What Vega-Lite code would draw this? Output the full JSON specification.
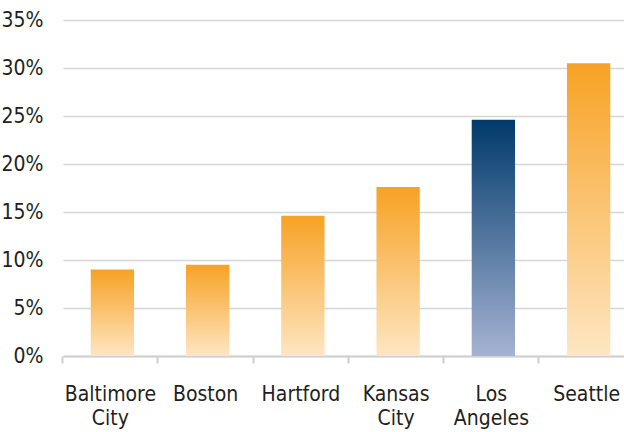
{
  "$schema": "https://vega.github.io/schema/vega-lite/v6.json",
  "autosize": {"type": "none"},
  "width": 561,
  "height": 336,
  "padding": {"left": 63, "top": 20, "right": 0, "bottom": 76},
  "background": "white",
  "config": {
    "view": {"stroke": null},
    "font": "DejaVu Sans Condensed, Roboto, sans-serif"
  },
  "data": {
    "values": [
      {"city": "Baltimore City", "share": 0.090},
      {"city": "Boston", "share": 0.095},
      {"city": "Hartford", "share": 0.146},
      {"city": "Kansas City", "share": 0.176},
      {"city": "Los Angeles", "share": 0.246},
      {"city": "Seattle", "share": 0.305}
    ]
  },
  "mark": {"type": "bar", "xOffset": 2},
  "encoding": {
    "x": {
      "field": "city",
      "type": "nominal",
      "sort": null,
      "scale": {"range": [0, 571], "paddingInner": 0.545, "paddingOuter": 0.27},
      "axis": {
        "title": null,
        "labelAngle": 0,
        "labelExpr": "split(datum.label, ' ')",
        "labelFontSize": 21,
        "labelColor": "#231f20",
        "labelLineHeight": 24,
        "labelPadding": 20,
        "bandPosition": -0.6,
        "ticks": true,
        "tickSize": 7,
        "tickColor": "#cfcfcf",
        "tickWidth": 2,
        "domainColor": "#cfcfcf",
        "domainWidth": 2,
        "grid": false
      }
    },
    "y": {
      "field": "share",
      "type": "quantitative",
      "scale": {"domain": [0, 0.35], "nice": false},
      "axis": {
        "title": null,
        "format": ".0%",
        "values": [0, 0.05, 0.1, 0.15, 0.2, 0.25, 0.3, 0.35],
        "domain": false,
        "ticks": false,
        "labelPadding": 20,
        "labelFontSize": 21,
        "labelColor": "#231f20",
        "gridColor": "#d6d6d6",
        "gridWidth": 1.5
      }
    },
    "color": {
      "condition": {
        "test": "datum.city === 'Los Angeles'",
        "value": {
          "gradient": "linear", "x1": 0, "y1": 0, "x2": 0, "y2": 1,
          "stops": [{"offset": 0, "color": "#003a6b"}, {"offset": 1, "color": "#a6b3d3"}]
        }
      },
      "value": {
        "gradient": "linear", "x1": 0, "y1": 0, "x2": 0, "y2": 1,
        "stops": [{"offset": 0, "color": "#f7a224"}, {"offset": 1, "color": "#fee6c3"}]
      }
    }
  }
}
